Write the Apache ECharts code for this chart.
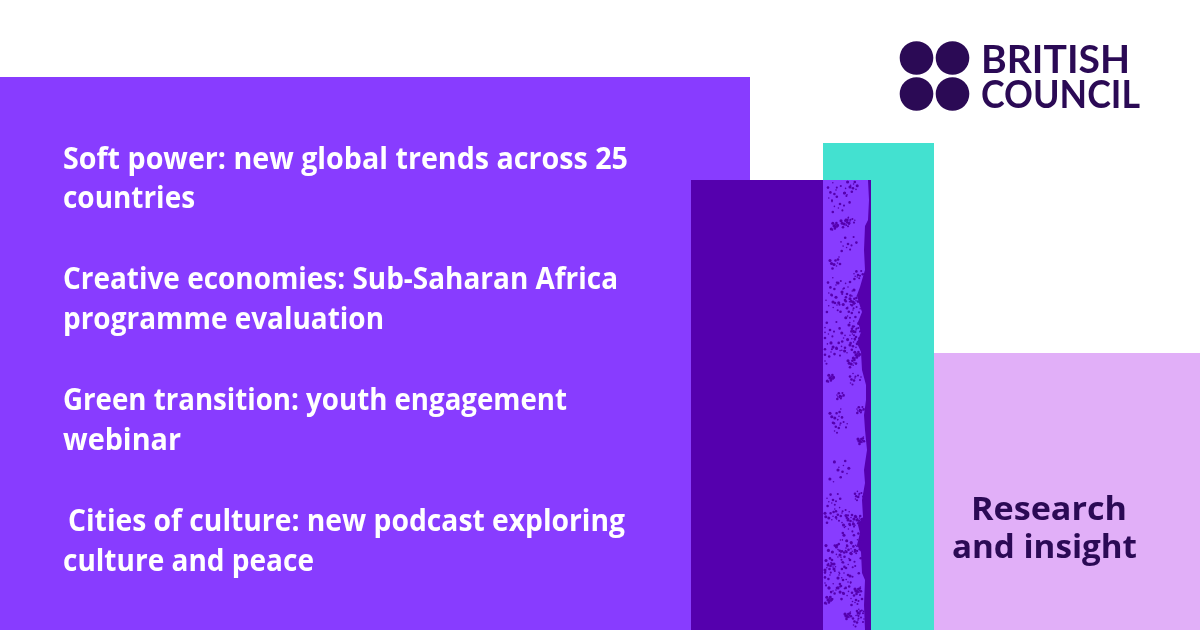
<!DOCTYPE html>
<html><head><meta charset="utf-8">
<style>html,body{margin:0;padding:0;background:#fff}#c{width:1200px;height:630px}</style>
<script src="https://cdn.jsdelivr.net/npm/echarts@6/dist/echarts.min.js"></script>
</head><body><div id="c"></div>
<script>
const headlineLines = [
  "Soft power: new global trends across 25", "countries",
  "Creative economies: Sub-Saharan Africa", "programme evaluation",
  "Green transition: youth engagement", "webinar",
  " Cities of culture: new podcast exploring", "culture and peace"
];
const logoLines = ["BRITISH", "COUNCIL"];
const tagLines = ["Research", "and insight"];

const lineY = [160,199,280,320,401,441,522,562];
const PURPLE="#883cff", DARK="#5500ae", TEAL="#43e1d0", LILAC="#e1aff8", INK="#2b0a55";

const edge = [[868,180],[869,200],[868,220],[865,226],[864,250],[865,270],[862,280],[860,287],[857,295],[859,303],[862,312],[858,322],[861,332],[857,343],[861,352],[862,370],[866,385],[866,400],[864,415],[865,430],[867,450],[864,470],[865,483],[862,500],[863,517],[858,525],[860,533],[857,545],[861,552],[862,573],[865,580],[864,605],[865,630],[871,630],[871,180]];
const clusters = [
 [836,190,8],[850,187,6],[840,204,8],[845,222,4],[850,221,4],[834,226,3],[848,244,7],[835,262,5],
 [836,285,8],[842,292,10],[835,303,9],[845,300,9],[853,310,6],[849,325,8],[830,330,8],[838,345,7],[831,352,9],[850,345,6],[856,337,6],[852,362,4],[855,378,5],[830,378,3],[840,396,3],
 [836,415,6],[840,425,6],[838,470,9],[833,500,6],[830,515,6],[842,513,6],[848,520,5],
 [850,525,8],[853,538,9],[846,548,9],[840,555,9],[850,560,9],[834,548,8],[830,575,8],[838,578,10],[848,575,9],[845,590,7],[836,590,7],[828,565,5],[856,600,5],[848,615,3],[858,620,5],[828,600,3],
 [858,275,4],[854,300,4],[856,330,4],[856,355,3],[860,410,3],[861,440,3],[859,495,4],[857,520,4],[855,550,4],[858,590,3],[860,612,3]
];
const spread = [[0,0],[.6,-.5],[-.7,.3],[.3,.8],[-.4,-.9],[1,.4],[-1,-.3],[.8,-1],[-.9,1],[.1,-.3],[-.2,.5],[.5,.2],[1.2,-.2],[-.5,1.3]];
const specks = [];
clusters.forEach(([x,y,s],i)=>spread.forEach(([a,b],j)=>{
  if ((i+j)%4===3) return;
  specks.push({type:"circle",silent:true,shape:{cx:Math.min(869,Math.max(825,x+a*s)),cy:Math.max(182,y+b*s),r:.8+((i*3+j*5)%4)*.25},style:{fill:DARK}});
}));

const g = [];
const rect=(x,y,w,h,fill)=>g.push({type:"rect",silent:true,shape:{x,y,width:w,height:h},style:{fill}});
rect(0,0,1200,630,"#ffffff");
rect(0,77,750,553,PURPLE);
rect(823,143,111,487,TEAL);
rect(934,353,266,277,LILAC);
rect(691,180,132,450,DARK);
rect(823,180,48,450,PURPLE);
g.push({type:"polygon",silent:true,shape:{points:edge},style:{fill:DARK}});
specks.forEach(s=>g.push(s));

const leftWidths=[565,132,555,321,504,118,557,251];
const probe=document.createElement("canvas").getContext("2d");
const fit=(text,font,w)=>{probe.font=font;return w/probe.measureText(text).width;};
const HF='700 31px "Open Sans"';
headlineLines.forEach((t,i)=>g.push({type:"text",silent:true,x:t.startsWith(" ")?68:63,y:lineY[i],scaleX:fit(t.trim(),HF,leftWidths[i]),
  style:{text:t.trim(),fill:"#ffffff",font:HF,textAlign:"left",textVerticalAlign:"middle"}}));

[[916.5,58],[952.5,58],[916.5,94],[952.5,94]].forEach(([cx,cy])=>g.push({type:"circle",silent:true,shape:{cx,cy,r:16.8},style:{fill:INK}}));
const LF='700 39px "Lato"';
[[981,60,149],[981,95,159]].forEach(([x,y,w],i)=>g.push({type:"text",silent:true,x,y,scaleX:fit(logoLines[i],LF,w),
  style:{text:logoLines[i],fill:INK,font:LF,textAlign:"left",textVerticalAlign:"middle"}}));

const TF='700 33px "Open Sans"';
[[971,511,156],[952,549,185]].forEach(([x,y,w],i)=>g.push({type:"text",silent:true,x,y,scaleX:fit(tagLines[i],TF,w),
  style:{text:tagLines[i],fill:INK,font:TF,textAlign:"left",textVerticalAlign:"middle"}}));

const chart=echarts.init(document.getElementById("c"),null,{renderer:"canvas"});
chart.setOption({animation:false,graphic:{elements:g}});
</script></body></html>
